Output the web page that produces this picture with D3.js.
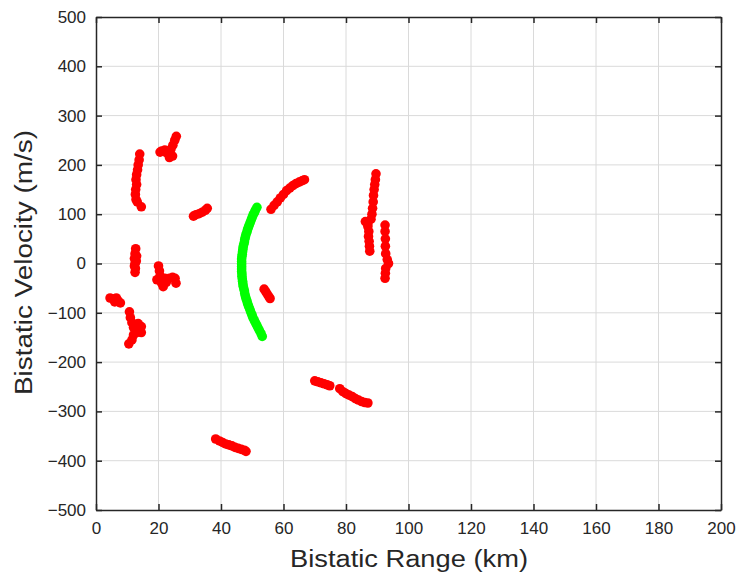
<!DOCTYPE html>
<html>
<head>
<meta charset="utf-8">
<script src="https://cdn.jsdelivr.net/npm/d3@7"></script>
<style>
  html, body { margin: 0; padding: 0; background: #fff; }
  svg { display: block; font-family: "Liberation Sans", Arial, Helvetica, sans-serif; }
</style>
</head>
<body>
<svg id="chart" width="739" height="577"></svg>
<script>
// Tick values
const xTicks = [0, 20, 40, 60, 80, 100, 120, 140, 160, 180, 200];
const yTicks = [-500, -400, -300, -200, -100, 0, 100, 200, 300, 400, 500];

// Detected targets (range km, velocity m/s) — clutter tracks
const redRange = [
  // track near 13 km, upper
  14.0, 13.8, 13.5, 13.3, 13.0, 12.8, 13.0, 12.7, 12.6, 12.8, 13.2, 14.5,
  // track near 24 km, upper
  25.7, 25.2, 24.6, 24.0, 23.5, 22.5, 21.0, 20.5, 23.5, 24.5, 22.0,
  // track near 12.5 km, zero velocity
  12.7, 12.5, 12.3, 12.5, 12.3, 12.6, 12.5, 12.9, 13.0,
  // track near 22 km, slightly negative
  20.0, 20.3, 20.5, 19.5, 21.0, 21.5, 22.5, 23.5, 24.5, 25.3, 25.6, 22.0,
  // track near 6 km
  4.5, 5.5, 6.5, 7.0, 7.8, 6.0,
  // track near 12 km, negative
  10.7, 11.0, 11.5, 12.0, 13.5, 14.5, 14.5, 13.0, 12.0, 11.5, 10.5,
  // track near 33 km
  31.2, 32.0, 33.0, 34.0, 35.0, 35.6,
  // track 56–67 km
  56.0, 57.0, 58.0, 59.0, 60.0, 61.0, 62.0, 63.0, 64.0, 65.0, 66.0, 66.7,
  // track near 88 km
  89.6, 89.4, 89.2, 89.0, 88.8, 88.7, 88.5, 88.3, 88.0, 86.2, 87.0, 87.3, 87.2, 87.4, 87.5, 87.6, 87.0,
  // track near 92.5 km
  92.5, 92.5, 92.6, 92.6, 92.7, 93.2, 93.6, 92.7, 92.6, 92.5,
  // short track near 55 km
  53.8, 54.3, 54.8, 55.3, 55.7,
  // track 70–75 km
  70.0, 71.0, 72.0, 73.0, 74.0, 74.8,
  // track 78–87 km
  78.0, 79.0, 80.0, 81.0, 82.0, 83.0, 84.0, 85.0, 86.0, 87.0,
  // track 38–48 km
  38.3, 39.5, 40.5, 41.5, 42.5, 43.5, 44.5, 45.5, 46.5, 47.5, 48.0
];
const redVelocity = [
  222, 210, 200, 190, 180, 170, 160, 150, 140, 130, 125, 115,
  258, 250, 240, 232, 228, 225, 228, 226, 215, 218, 230,
  30, 20, 10, 0, -5, -10, -18, 5, 15,
  -5, -15, -25, -33, -40, -47, -38, -30, -28, -30, -40, -30,
  -70, -72, -70, -75, -80, -78,
  -98, -110, -120, -130, -122, -128, -140, -140, -145, -155, -163,
  96, 99, 101, 104, 108, 112,
  110, 118, 125, 133, 140, 148, 153, 158, 162, 165, 168, 170,
  182, 170, 160, 150, 138, 125, 112, 100, 90, 85, 75, 65, 55, 45, 35, 25, 80,
  78, 65, 50, 35, 20, 8, 0, -10, -20, -30,
  -52, -57, -62, -67, -71,
  -238, -240, -242, -244, -246, -248,
  -254, -260, -264, -267, -270, -274, -277, -280, -282, -283,
  -356, -360, -363, -366, -368, -370, -373, -375, -377, -379, -381
];

// Target of interest (green arc)
const greenRange = [
  51.5, 51.0, 50.7, 50.3, 50.0, 49.7, 49.4, 49.1, 48.8, 48.5, 48.3, 48.0,
  47.8, 47.6, 47.5, 47.3, 47.1, 47.0, 46.9, 46.8, 46.7, 46.6, 46.6, 46.6,
  46.6, 46.6, 46.6, 46.7, 46.7, 46.8, 46.9, 47.0, 47.1, 47.3, 47.5, 47.6,
  47.8, 48.0, 48.3, 48.5, 48.8, 49.1, 49.4, 49.7, 50.0, 50.3, 50.7, 51.1,
  51.5, 51.9, 52.3, 52.8, 53.2
];
const greenVelocity = [
  114, 108, 103, 99, 94, 89, 84, 79, 74, 69, 64, 59,
  54, 49, 44, 39, 34, 29, 24, 19, 14, 9, 4, -1,
  -6, -11, -16, -21, -26, -31, -36, -41, -46, -51, -56, -61,
  -66, -71, -76, -81, -86, -91, -96, -101, -106, -111, -116, -121,
  -126, -131, -136, -142, -148
];

const width = 739, height = 577;
const margin = { left: 96, right: 18, top: 17, bottom: 67 };
const innerW = width - margin.left - margin.right;
const innerH = height - margin.top - margin.bottom;

const svg = d3.select("#chart");
const g = svg.append("g").attr("transform", `translate(${margin.left},${margin.top})`);

const x = d3.scaleLinear().domain([0, 200]).range([0, innerW]);
const y = d3.scaleLinear().domain([-500, 500]).range([innerH, 0]);

const axisColor = "#262626";
const gridColor = "#dadada";

// grid lines
g.append("g").selectAll("line").data(xTicks.slice(1, -1)).join("line")
  .attr("x1", d => x(d)).attr("x2", d => x(d))
  .attr("y1", 0).attr("y2", innerH)
  .attr("stroke", gridColor).attr("stroke-width", 1);
g.append("g").selectAll("line").data(yTicks.slice(1, -1)).join("line")
  .attr("y1", d => y(d)).attr("y2", d => y(d))
  .attr("x1", 0).attr("x2", innerW)
  .attr("stroke", gridColor).attr("stroke-width", 1);

// data points
const redPts = redRange.map((r, i) => [r, redVelocity[i]]);
const greenPts = greenRange.map((r, i) => [r, greenVelocity[i]]);

g.append("g").selectAll("circle").data(redPts).join("circle")
  .attr("cx", d => x(d[0])).attr("cy", d => y(d[1]))
  .attr("r", 4.8).attr("fill", "#ff0000");
g.append("g").selectAll("circle").data(greenPts).join("circle")
  .attr("cx", d => x(d[0])).attr("cy", d => y(d[1]))
  .attr("r", 4.8).attr("fill", "#00ff00");

// axes (ticks inward, box on all sides)
function styleAxis(sel, labels) {
  sel.select(".domain").attr("stroke", axisColor).attr("stroke-width", 1.5);
  sel.selectAll(".tick line").attr("stroke", axisColor).attr("stroke-width", 1.5);
  sel.selectAll(".tick text").attr("fill", axisColor).style("font-size", "17px")
    .style("font-family", '"Liberation Sans", Arial, sans-serif');
  if (!labels) sel.selectAll(".tick text").remove();
}

const xAxisB = g.append("g").attr("transform", `translate(0,${innerH})`)
  .call(d3.axisBottom(x).tickValues(xTicks).tickSizeInner(-6).tickSizeOuter(0).tickPadding(12));
styleAxis(xAxisB, true);
const xAxisT = g.append("g")
  .call(d3.axisTop(x).tickValues(xTicks).tickSizeInner(-6).tickSizeOuter(0));
styleAxis(xAxisT, false);
const yAxisL = g.append("g")
  .call(d3.axisLeft(y).tickValues(yTicks).tickSizeInner(-6).tickSizeOuter(0).tickPadding(10));
styleAxis(yAxisL, true);
const yAxisR = g.append("g").attr("transform", `translate(${innerW},0)`)
  .call(d3.axisRight(y).tickValues(yTicks).tickSizeInner(-6).tickSizeOuter(0));
styleAxis(yAxisR, false);

// axis titles
svg.append("text")
  .attr("x", 290).attr("y", 567)
  .attr("textLength", 238).attr("lengthAdjust", "spacingAndGlyphs")
  .attr("fill", axisColor)
  .style("font-size", "23px")
  .text("Bistatic Range (km)");
svg.append("text")
  .attr("transform", "translate(32,395) rotate(-90)")
  .attr("textLength", 265).attr("lengthAdjust", "spacingAndGlyphs")
  .attr("fill", axisColor)
  .style("font-size", "23px")
  .text("Bistatic Velocity (m/s)");
</script>
</body>
</html>
